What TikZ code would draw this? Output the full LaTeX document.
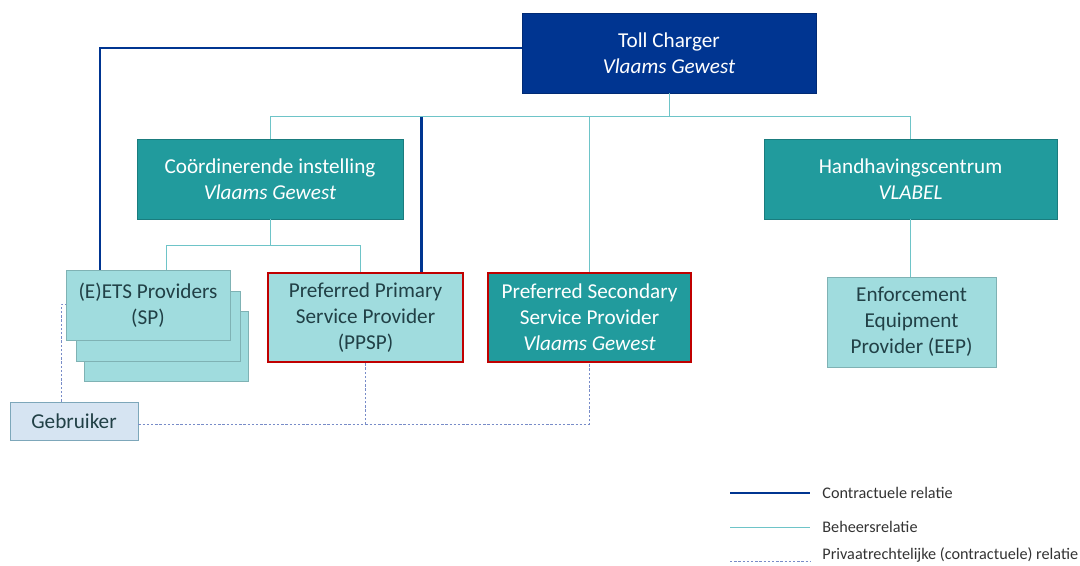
\documentclass[tikz,border=0pt]{standalone}
\usepackage{fontspec}
\setmainfont{Carlito}
\usepackage{xcolor}
\usepackage{tikz}
\usetikzlibrary{positioning,calc}
\definecolor{tolblue}{RGB}{0,53,145}
\definecolor{tolteal}{RGB}{33,155,157}
\definecolor{tollight}{RGB}{160,220,222}
\definecolor{tolline}{RGB}{110,196,200}
\definecolor{tolred}{RGB}{192,0,0}
\definecolor{tolgrey}{RGB}{127,178,180}
\definecolor{toldot}{RGB}{120,140,200}
\definecolor{tolpale}{RGB}{214,228,242}
\definecolor{toltext}{RGB}{33,64,70}

\begin{document}
\begin{tikzpicture}[x=0.5pt,y=-0.5pt,
  box/.style={rectangle,align=center,inner sep=0pt,font=\fontsize{10.6}{13}\selectfont},
  dark/.style={box,fill=tolteal,draw=tolteal!80!black,text=white},
  lite/.style={box,fill=tollight,draw=tolgrey,text=toltext},
  pref/.style={draw=tolred,line width=1pt},
  contract/.style={draw=tolblue,line width=1.2pt},
  beheer/.style={draw=tolline,line width=0.5pt},
  priv/.style={draw=toldot,line width=0.5pt,dash pattern=on 1.2pt off 0.9pt},
  legtext/.style={anchor=west,inner sep=0pt,text=black!80,font=\fontsize{8.1}{9}\selectfont}]
\useasboundingbox (0,0) rectangle (1080,566);
% boxes
\node[box,fill=tolblue,draw=tolblue!80!black,text=white,minimum width=147pt,minimum height=40pt] (tc) at (669,53) {Toll Charger\\\textit{Vlaams Gewest}};
\node[dark,minimum width=133pt,minimum height=40pt] (coord) at (270,179) {Coördinerende instelling\\\textit{Vlaams Gewest}};
\node[dark,minimum width=146.5pt,minimum height=40pt] (hc) at (910.5,179) {Handhavingscentrum\\\textit{VLABEL}};
\node[lite,minimum width=82pt,minimum height=35pt] (ets3) at (166,346) {};
\node[lite,minimum width=82pt,minimum height=35pt] (ets2) at (158,326.5) {};
\node[lite,minimum width=82pt,minimum height=35pt] (ets) at (148,305) {(E)ETS Providers\\(SP)};
\node[lite,pref,minimum width=97.5pt,minimum height=44.5pt] (ppsp) at (365.5,317.5) {Preferred Primary\\Service Provider\\(PPSP)};
\node[dark,pref,minimum width=101.5pt,minimum height=44.5pt] (pssp) at (589.5,317.5) {Preferred Secondary\\Service Provider\\\textit{Vlaams Gewest}};
\node[lite,minimum width=84.5pt,minimum height=45pt] (eep) at (911.5,322) {Enforcement\\Equipment\\Provider (EEP)};
\node[box,fill=tolpale,draw=tolgrey!70!toldot,text=toltext,minimum width=64pt,minimum height=19pt] (geb) at (74,421) {Gebruiker};
\coordinate (bus) at (669,117);
\coordinate (sub) at (270,246);
% beheersrelaties
\draw[beheer] (tc.south) -- (bus);
\draw[beheer] (coord.north) -- (coord.north |- bus) -- (hc.north |- bus) -- (hc.north);
\draw[beheer] (pssp.north) -- (pssp.north |- bus);
\draw[beheer] (coord.south) -- (sub);
\draw[beheer] ([xshift=9pt]ets.north) -- ([xshift=9pt]ets.north |- sub) -- ([xshift=-2.75pt]ppsp.north |- sub) -- ([xshift=-2.75pt]ppsp.north);
\draw[beheer] (hc.south) -- (hc.south |- eep.north);
% contractuele relaties
\draw[contract] ([yshift=2.5pt]tc.west) -| ([xshift=-24pt]ets.north);
\draw[contract] ([xshift=28pt]ppsp.north |- bus) -- ([xshift=28pt]ppsp.north);
% privaatrechtelijke relaties
\draw[priv] ([xshift=-6.5pt]geb.north) |- (ets.west);
\draw[priv] ([yshift=-1.5pt]geb.east) -| (ppsp.south);
\draw[priv] ([yshift=-1.5pt]geb.east -| ppsp.south) -| (pssp.south);
% legende
\node[legtext] (l1) at (822,493) {Contractuele relatie};
\node[legtext] (l2) at (822,527) {Beheersrelatie};
\node[legtext] (l3) at (822,555) {Privaatrechtelijke (contractuele) relatie};
\draw[contract] ([xshift=-46pt]l1.west) -- ([xshift=-6pt]l1.west);
\draw[beheer] ([xshift=-46pt]l2.west) -- ([xshift=-6pt]l2.west);
\draw[priv] ([xshift=-46pt,yshift=-3pt]l3.west) -- ([xshift=-6pt,yshift=-3pt]l3.west);
\end{tikzpicture}
\end{document}
